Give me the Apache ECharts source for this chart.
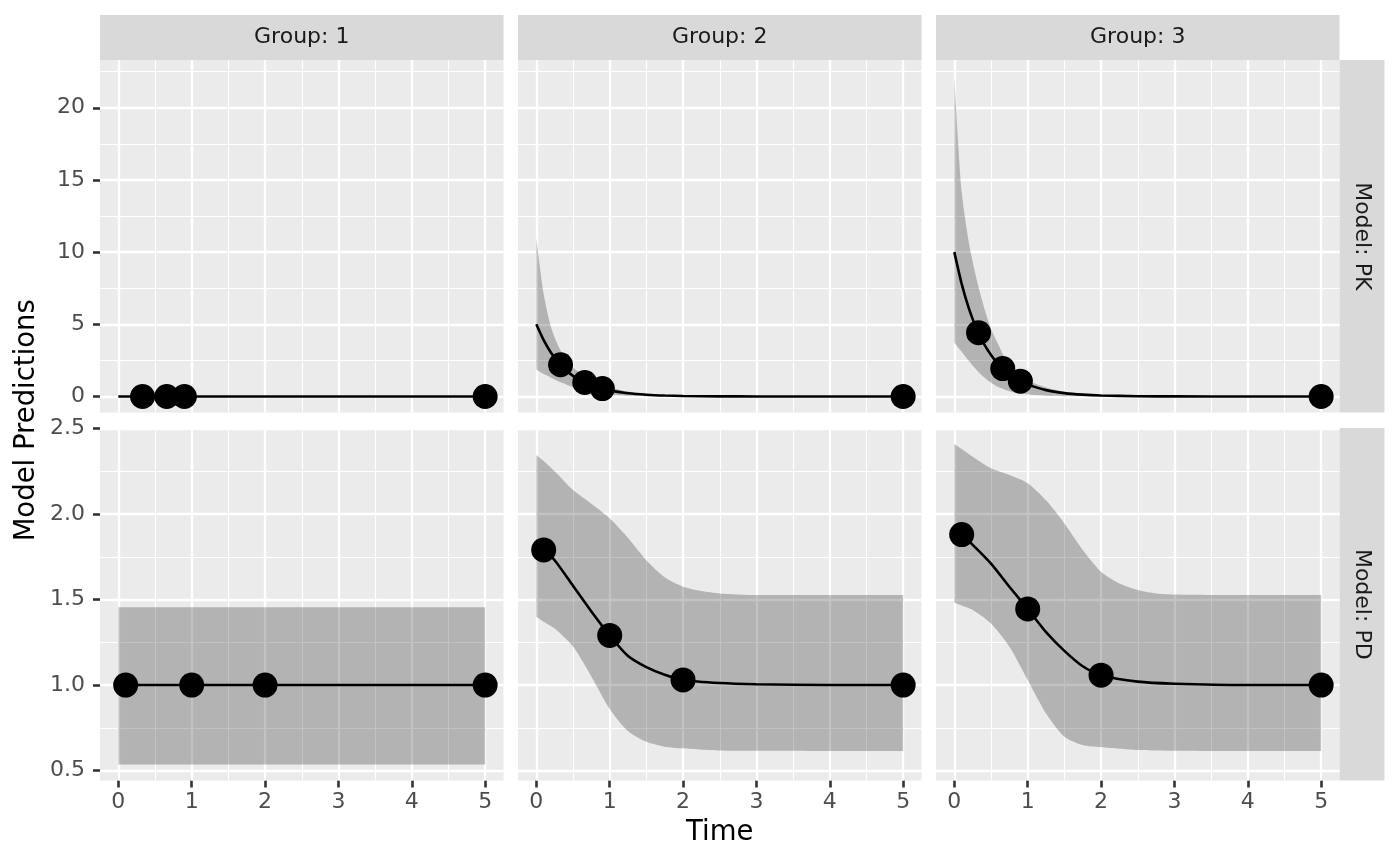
<!DOCTYPE html>
<html>
<head>
<meta charset="utf-8">
<title>Model Predictions</title>
<script src="https://cdn.jsdelivr.net/npm/echarts@6/dist/echarts.min.js"></script>
<style>
  html, body { margin: 0; padding: 0; background: #fff; }
  #chart { width: 1400px; height: 865px; }
</style>
</head>
<body>
<div id="chart"></div>
<script>
// facet labels
const groupLabels = ['Group: 1', 'Group: 2', 'Group: 3'];
const modelLabels = ['Model: PK', 'Model: PD'];

// axis breaks
const timeBreaks = [0, 1, 2, 3, 4, 5];
const timeMinor = [0.5, 1.5, 2.5, 3.5, 4.5];
const pkBreaks = [0, 5, 10, 15, 20];
const pkMinor = [2.5, 7.5, 12.5, 17.5, 22.5];
const pdBreaks = [0.5, 1, 1.5, 2, 2.5];
const pdMinor = [0.75, 1.25, 1.75, 2.25];

// PK model: curve + interval
const pkTime = [0, 0.1, 0.2, 0.3, 0.4, 0.5, 0.6, 0.7, 0.8, 0.9, 1, 1.25, 1.5, 1.75, 2, 2.5, 3, 4, 5];
const pkLine1 = [0, 0, 0, 0, 0, 0, 0, 0, 0, 0, 0, 0, 0, 0, 0, 0, 0, 0, 0];
const pkLine2 = [5, 3.9, 3.03, 2.36, 1.84, 1.43, 1.12, 0.87, 0.68, 0.53, 0.41, 0.22, 0.12, 0.063, 0.034, 0.01, 0.003, 0, 0];
const pkLine3 = [10, 7.8, 6.07, 4.72, 3.68, 2.87, 2.23, 1.74, 1.35, 1.05, 0.82, 0.44, 0.235, 0.126, 0.067, 0.019, 0.006, 0, 0];
const pkUpper2 = [11, 7.1, 4.8, 3.5, 2.6, 2.0, 1.6, 1.25, 0.98, 0.78, 0.62, 0.34, 0.18, 0.1, 0.05, 0.015, 0.004, 0, 0];
const pkLower2 = [1.87, 1.55, 1.3, 1.05, 0.85, 0.65, 0.48, 0.35, 0.24, 0.17, 0.12, 0.05, 0.02, 0.01, 0.004, 0.001, 0, 0, 0];
const pkUpper3 = [22.2, 14.2, 10.6, 8.2, 6.25, 4.7, 3.6, 2.55, 1.9, 1.45, 1.1, 0.62, 0.32, 0.17, 0.09, 0.025, 0.007, 0, 0];
const pkLower3 = [3.73, 3.1, 2.45, 1.85, 1.35, 0.95, 0.65, 0.45, 0.3, 0.2, 0.13, 0.05, 0.02, 0.01, 0.004, 0.001, 0, 0, 0];
const pkObsTime = [0.33, 0.66, 0.9, 5];
const pkObs1 = [0, 0, 0, 0];
const pkObs2 = [2.2, 0.97, 0.55, 0];
const pkObs3 = [4.42, 1.93, 1.06, 0];

// PD model
const pdLineTime = [0.1, 0.25, 0.5, 0.75, 1, 1.25, 1.5, 1.75, 2, 2.5, 3, 4, 5];
const pdLine1 = [1, 1, 1, 1, 1, 1, 1, 1, 1, 1, 1, 1, 1];
const pdLine2 = [1.79, 1.73, 1.58, 1.43, 1.29, 1.17, 1.105, 1.06, 1.03, 1.012, 1.005, 1, 1];
const pdLine3 = [1.88, 1.82, 1.71, 1.575, 1.445, 1.31, 1.2, 1.11, 1.058, 1.02, 1.008, 1, 1];
const pdBandTime1 = [0, 5];
const pdUpper1 = [1.455, 1.455];
const pdLower1 = [0.536, 0.536];
const pdBandTime = [0, 0.1, 0.25, 0.5, 0.75, 1, 1.25, 1.5, 1.75, 2, 2.25, 2.5, 2.75, 3, 4, 5];
const pdUpper2 = [2.345, 2.31, 2.25, 2.14, 2.06, 1.975, 1.86, 1.73, 1.63, 1.575, 1.55, 1.536, 1.53, 1.526, 1.526, 1.526];
const pdLower2 = [1.40, 1.37, 1.33, 1.225, 1.05, 0.86, 0.73, 0.668, 0.64, 0.63, 0.622, 0.618, 0.616, 0.616, 0.615, 0.615];
const pdUpper3 = [2.409, 2.38, 2.335, 2.267, 2.228, 2.18, 2.08, 1.945, 1.79, 1.663, 1.594, 1.556, 1.536, 1.53, 1.526, 1.526];
const pdLower3 = [1.481, 1.465, 1.439, 1.36, 1.224, 1.03, 0.834, 0.698, 0.649, 0.636, 0.628, 0.62, 0.617, 0.616, 0.614, 0.614];
const pdObsTime = [0.1, 1, 2, 5];
const pdObs1 = [1, 1, 1, 1];
const pdObs2 = [1.79, 1.29, 1.03, 1.0];
const pdObs3 = [1.88, 1.445, 1.058, 1.0];

// layout
const colLeft = [100, 518, 936];
const rowTop = [60, 428];
const panelW = 403.5;
const panelH = 352.5;
const stripH = 45;
const yRange = [[-1.11, 23.31], [0.442, 2.503]];
const FONT = 'DejaVu Sans';
const bandColor = 'rgba(0,0,0,0.24)';

const zip = (xs, ys) => xs.map((x, i) => [x, ys[i]]);
// value first, time second, so a stack sums the y values (see encode below)
const zipYX = (xs, ys) => xs.map((x, i) => [ys[i], x]);

const panels = [
  { row: 0, col: 0, lineT: pkTime, line: pkLine1, obs: pkObs1, obsT: pkObsTime },
  { row: 0, col: 1, lineT: pkTime, line: pkLine2, bandT: pkTime, up: pkUpper2, lo: pkLower2, obs: pkObs2, obsT: pkObsTime },
  { row: 0, col: 2, lineT: pkTime, line: pkLine3, bandT: pkTime, up: pkUpper3, lo: pkLower3, obs: pkObs3, obsT: pkObsTime },
  { row: 1, col: 0, lineT: pdLineTime, line: pdLine1, bandT: pdBandTime1, up: pdUpper1, lo: pdLower1, obs: pdObs1, obsT: pdObsTime },
  { row: 1, col: 1, lineT: pdLineTime, line: pdLine2, bandT: pdBandTime, up: pdUpper2, lo: pdLower2, obs: pdObs2, obsT: pdObsTime },
  { row: 1, col: 2, lineT: pdLineTime, line: pdLine3, bandT: pdBandTime, up: pdUpper3, lo: pdLower3, obs: pdObs3, obsT: pdObsTime },
];

const grid = [], xAxis = [], yAxis = [], series = [], graphic = [];

panels.forEach((p, i) => {
  const bottomRow = p.row === 1;
  const firstCol = p.col === 0;
  const yBreaks = p.row === 0 ? pkBreaks : pdBreaks;
  const yMinor = p.row === 0 ? pkMinor : pdMinor;

  grid.push({
    left: colLeft[p.col], top: rowTop[p.row], width: panelW, height: panelH,
    show: true, backgroundColor: '#EBEBEB', borderWidth: 0,
    containLabel: false, outerBoundsMode: 'none'
  });

  xAxis.push({
    type: 'value', gridIndex: i, min: -0.25, max: 5.25, position: 'bottom',
    axisLine: { show: false, onZero: false },
    splitLine: { show: false },
    axisTick: {
      show: bottomRow, customValues: timeBreaks, length: 7,
      lineStyle: { color: '#333333', width: 2.6 }
    },
    axisLabel: {
      show: bottomRow, customValues: timeBreaks, margin: 11,
      fontSize: 22, fontFamily: FONT, color: '#4D4D4D'
    }
  });

  yAxis.push({
    type: 'value', gridIndex: i, min: yRange[p.row][0], max: yRange[p.row][1], position: 'left',
    axisLine: { show: false, onZero: false },
    splitLine: { show: false },
    axisTick: {
      show: firstCol, customValues: yBreaks, length: 7,
      lineStyle: { color: '#333333', width: 2.6 }
    },
    axisLabel: {
      show: firstCol, customValues: yBreaks, margin: 15,
      fontSize: 22, fontFamily: FONT, color: '#4D4D4D',
      formatter: v => p.row === 0 ? String(v) : v.toFixed(1)
    }
  });

  // white panel grid, major and minor
  const major = { color: '#FFFFFF', width: 2.3, type: 'solid', opacity: 1 };
  const minor = { color: '#FFFFFF', width: 1.15, type: 'solid', opacity: 1 };
  series.push({
    type: 'line', xAxisIndex: i, yAxisIndex: i, z: 1, silent: true,
    data: [[timeBreaks[0], yBreaks[0]]], symbolSize: 0, showSymbol: false,
    lineStyle: { opacity: 0 }, itemStyle: { opacity: 0 },
    markLine: {
      z: 1, silent: true, symbol: ['none', 'none'], label: { show: false },
      emphasis: { disabled: true },
      data: [
        ...timeMinor.map(v => ({ xAxis: v, lineStyle: minor })),
        ...yMinor.map(v => ({ yAxis: v, lineStyle: minor })),
        ...timeBreaks.map(v => ({ xAxis: v, lineStyle: major })),
        ...yBreaks.map(v => ({ yAxis: v, lineStyle: major }))
      ]
    }
  });

  // interval ribbon as a stacked area
  if (p.bandT) {
    const stack = 'band' + i;
    series.push({
      type: 'line', xAxisIndex: i, yAxisIndex: i, z: 2, silent: true, stack,
      encode: { x: 1, y: 0 },
      data: zipYX(p.bandT, p.lo), symbol: 'none', smooth: 0.25,
      lineStyle: { opacity: 0 }
    });
    series.push({
      type: 'line', xAxisIndex: i, yAxisIndex: i, z: 2, silent: true, stack,
      encode: { x: 1, y: 0 },
      data: zipYX(p.bandT, p.up.map((u, k) => u - p.lo[k])), symbol: 'none',
      smooth: 0.25,
      lineStyle: { opacity: 0 },
      areaStyle: { color: bandColor, opacity: 1 }
    });
  }

  series.push({
    type: 'line', xAxisIndex: i, yAxisIndex: i, z: 3, silent: true,
    data: zip(p.lineT, p.line), symbol: 'none', smooth: 0.25,
    lineStyle: { color: '#000000', width: 2.6 }
  });

  series.push({
    type: 'scatter', xAxisIndex: i, yAxisIndex: i, z: 4, silent: true,
    data: zip(p.obsT, p.obs), symbolSize: 25,
    itemStyle: { color: '#000000', opacity: 1 }
  });
});

// facet strips
groupLabels.forEach((g, c) => {
  graphic.push({
    type: 'rect', silent: true,
    shape: { x: colLeft[c], y: rowTop[0] - stripH, width: panelW, height: stripH },
    style: { fill: '#D9D9D9' }
  });
  graphic.push({
    type: 'text', silent: true, x: colLeft[c] + panelW / 2, y: rowTop[0] - stripH / 2,
    style: { text: g, fontSize: 22, fontFamily: FONT, fill: '#1A1A1A', align: 'center', verticalAlign: 'middle' }
  });
});
modelLabels.forEach((m, r) => {
  const sx = colLeft[2] + panelW;
  graphic.push({
    type: 'rect', silent: true,
    shape: { x: sx, y: rowTop[r], width: stripH, height: panelH },
    style: { fill: '#D9D9D9' }
  });
  graphic.push({
    type: 'text', silent: true, x: sx + stripH / 2, y: rowTop[r] + panelH / 2,
    rotation: -Math.PI / 2,
    style: { text: m, fontSize: 22, fontFamily: FONT, fill: '#1A1A1A', align: 'center', verticalAlign: 'middle' }
  });
});

// axis titles
graphic.push({
  type: 'text', silent: true, x: (colLeft[0] + colLeft[2] + panelW) / 2, y: 833,
  style: { text: 'Time', fontSize: 27.5, fontFamily: FONT, fill: '#000000', align: 'center', verticalAlign: 'middle' }
});
graphic.push({
  type: 'text', silent: true, x: 27, y: (rowTop[0] + rowTop[1] + panelH) / 2,
  rotation: Math.PI / 2,
  style: { text: 'Model Predictions', fontSize: 27.5, fontFamily: FONT, fill: '#000000', align: 'center', verticalAlign: 'middle' }
});

const chart = echarts.init(document.getElementById('chart'), null, { renderer: 'canvas' });
chart.setOption({
  animation: false,
  backgroundColor: '#FFFFFF',
  textStyle: { fontFamily: FONT },
  grid, xAxis, yAxis, series, graphic
});
</script>
</body>
</html>
